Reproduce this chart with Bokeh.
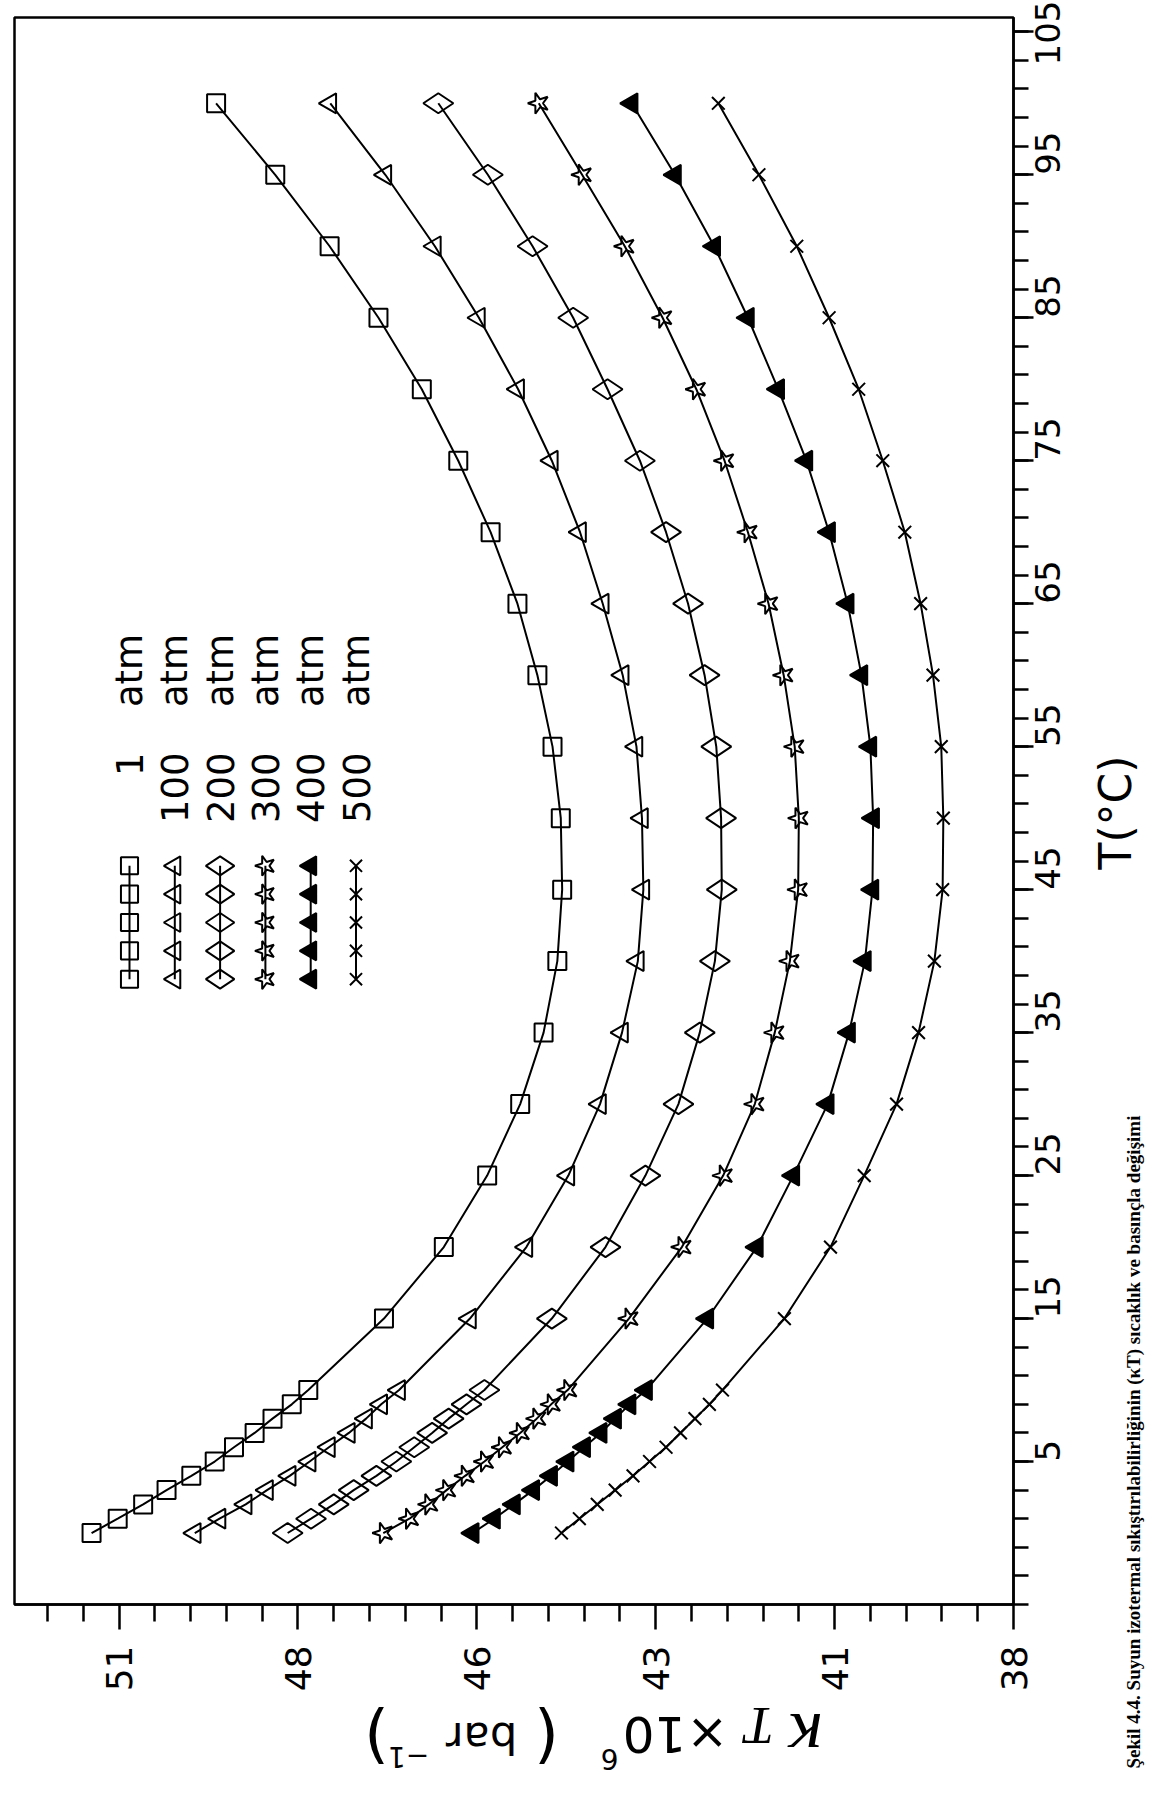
import math
from bokeh.plotting import figure
from bokeh.models import Range1d, FixedTicker, Label
from bokeh.layouts import row, column
from bokeh.embed import file_html
from bokeh.resources import INLINE

# ---------------- data ----------------
T_C = [0, 1, 2, 3, 4, 5, 6, 7, 8, 9, 10, 15, 20, 25, 30, 35, 40, 45, 50,
       55, 60, 65, 70, 75, 80, 85, 90, 95, 100]

KT_1 = [51.40, 51.02, 50.65, 50.31, 49.95, 49.61, 49.33, 49.03, 48.77, 48.49, 48.25,
        47.15, 46.28, 45.65, 45.17, 44.83, 44.63, 44.56, 44.58, 44.70, 44.92, 45.21,
        45.60, 46.07, 46.60, 47.23, 47.94, 48.73, 49.59]
KT_100 = [49.90, 49.54, 49.16, 48.85, 48.52, 48.23, 47.95, 47.66, 47.41, 47.19, 46.93,
          45.90, 45.08, 44.47, 44.01, 43.69, 43.46, 43.38, 43.40, 43.48, 43.68, 43.97,
          44.30, 44.71, 45.20, 45.77, 46.41, 47.13, 47.93]
KT_200 = [48.55, 48.21, 47.88, 47.59, 47.26, 46.97, 46.71, 46.45, 46.21, 45.95, 45.69,
          44.71, 43.93, 43.35, 42.87, 42.56, 42.34, 42.24, 42.25, 42.32, 42.49, 42.73,
          43.05, 43.43, 43.90, 44.40, 44.99, 45.64, 46.36]
KT_300 = [47.16, 46.78, 46.50, 46.24, 45.97, 45.69, 45.43, 45.17, 44.93, 44.72, 44.48,
          43.59, 42.82, 42.22, 41.76, 41.47, 41.25, 41.13, 41.12, 41.18, 41.34, 41.56,
          41.86, 42.20, 42.61, 43.10, 43.65, 44.27, 44.90]
KT_400 = [45.86, 45.55, 45.26, 44.98, 44.72, 44.48, 44.24, 44.00, 43.79, 43.58, 43.34,
          42.45, 41.73, 41.20, 40.70, 40.39, 40.16, 40.05, 40.04, 40.08, 40.21, 40.41,
          40.68, 41.01, 41.42, 41.86, 42.35, 42.92, 43.55]
KT_500 = [44.57, 44.31, 44.05, 43.79, 43.53, 43.29, 43.05, 42.84, 42.63, 42.42, 42.23,
          41.33, 40.66, 40.17, 39.70, 39.38, 39.15, 39.03, 39.02, 39.05, 39.17, 39.35,
          39.58, 39.90, 40.25, 40.68, 41.15, 41.70, 42.29]

SERIES = [KT_1, KT_100, KT_200, KT_300, KT_400, KT_500]
SERIES_LABELS = ["1", "100", "200", "300", "400", "500"]
UNIT_LABEL = "atm"

KAPPA_TICKS = [38.0, 40.6, 43.2, 45.8, 48.4, 51.0]
KAPPA_TICK_LABELS = ["38", "41", "43", "46", "48", "51"]
KAPPA_MINOR = [38.52, 39.04, 39.56, 40.08, 41.12, 41.64, 42.16, 42.68, 43.72, 44.24,
               44.76, 45.28, 46.32, 46.84, 47.36, 47.88, 48.92, 49.44, 49.96, 50.48,
               51.52, 52.04]
T_TICKS = [5, 15, 25, 35, 45, 55, 65, 75, 85, 95, 105]
T_MINOR = list(range(-5, 106, 2))

X_LABEL_PARTS = ["κ", "T", "×10", "6", "(", "bar", "−1", ")"]
Y_LABEL = "T(°C)"
CAPTION = "Şekil 4.4. Suyun izotermal sıkıştırılabilirliğinin (κT) sıcaklık ve basınçla değişimi"

# ---------------- styles / layout ----------------
MARKERS = ["square", "triangle", "diamond", "star", "triangle", "x"]
FILLS = [None, None, None, None, "black", None]
SIZES = [18, 20, 30, 22, 20, 18]
ANGLES = [0, math.pi / 2, math.pi / 2, math.pi / 2, math.pi / 2, 0]

# page pixels
FRAME_L, FRAME_R, FRAME_T, FRAME_B = 22, 1021, 25, 1612
X_START, X_END = 52.52, 38.0
Y_START, Y_END = -5.0, 106.0
MAIN_RIGHT, MAIN_BOTTOM = 76, 92
MAIN_W = (FRAME_L - 8) + (FRAME_R - FRAME_L) + MAIN_RIGHT
MAIN_H = (FRAME_T - 8) + (FRAME_B - FRAME_T) + MAIN_BOTTOM
TOTAL_W, TOTAL_H = 1146, 1778


def kx(px):
    return X_START + (px - FRAME_L) * (X_END - X_START) / (FRAME_R - FRAME_L)


def ty(py):
    return Y_END - (py - FRAME_T) * (Y_END - Y_START) / (FRAME_B - FRAME_T)


p = figure(frame_width=FRAME_R - FRAME_L, frame_height=FRAME_B - FRAME_T,
           min_border_left=FRAME_L - 8, min_border_top=FRAME_T - 8,
           min_border_right=MAIN_RIGHT, min_border_bottom=MAIN_BOTTOM,
           x_range=Range1d(X_START, X_END), y_range=Range1d(Y_START, Y_END),
           y_axis_location="right", output_backend="svg",
           toolbar_location=None, tools="")
p.xgrid.visible = False
p.ygrid.visible = False
p.background_fill_color = "white"
p.border_fill_color = "white"
p.outline_line_color = "black"
p.outline_line_width = 2.5

xa = p.xaxis[0]
xa.ticker = FixedTicker(ticks=KAPPA_TICKS, minor_ticks=KAPPA_MINOR)
xa.major_label_overrides = {t: s for t, s in zip(KAPPA_TICKS, KAPPA_TICK_LABELS)}
ya = p.yaxis[0]
ya.ticker = FixedTicker(ticks=T_TICKS, minor_ticks=T_MINOR)

for ax, tout, mout, stand, fs in ((xa, 25, 17, 16, "36px"), (ya, 20, 15, 14, "34px")):
    ax.axis_line_width = 2.5
    ax.axis_line_color = "black"
    ax.major_tick_line_width = 2.5
    ax.minor_tick_line_width = 2.5
    ax.major_tick_line_color = "black"
    ax.minor_tick_line_color = "black"
    ax.major_tick_out = tout
    ax.major_tick_in = 0
    ax.minor_tick_out = mout
    ax.minor_tick_in = 0
    ax.major_label_orientation = math.pi / 2
    ax.major_label_text_font = "DejaVu Sans"
    ax.major_label_text_font_size = fs
    ax.major_label_text_color = "black"
    ax.major_label_standoff = stand

# ---------------- curves ----------------
for ks, mk, fc, sz, an in zip(SERIES, MARKERS, FILLS, SIZES, ANGLES):
    p.line(ks, T_C, line_color="black", line_width=2)
    p.scatter(ks, T_C, marker=mk, size=sz, angle=an, line_color="black",
              line_width=2, fill_color=fc)

# ---------------- legend (columns) ----------------
LEG_X0, LEG_DX = 137, 45.3
LEG_Y0, LEG_DY, LEG_N = 873.3, 28.35, 5
for i, (lab, mk, fc, sz, an) in enumerate(zip(SERIES_LABELS, MARKERS, FILLS, SIZES, ANGLES)):
    cx = kx(LEG_X0 + LEG_DX * i)
    ys = [ty(LEG_Y0 + LEG_DY * j) for j in range(LEG_N)]
    p.line([cx] * LEG_N, ys, line_color="black", line_width=2)
    p.scatter([cx] * LEG_N, ys, marker=mk, size=sz * 0.95, angle=an,
              line_color="black", line_width=2, fill_color=fc)
    p.add_layout(Label(x=cx, y=ty(760), text=lab, angle=math.pi / 2,
                       text_align="right", text_baseline="middle",
                       text_font="DejaVu Sans", text_font_size="37px",
                       text_color="black"))
    p.add_layout(Label(x=cx, y=ty(678), text=UNIT_LABEL, angle=math.pi / 2,
                       text_align="center", text_baseline="middle",
                       text_font="DejaVu Sans", text_font_size="37px",
                       text_color="black"))


# ---------------- text panels (coordinates = page pixels) ----------------
def panel(x0, x1, y_top, y_bot):
    f = figure(frame_width=int(x1 - x0), frame_height=int(y_bot - y_top),
               x_range=Range1d(x0, x1), y_range=Range1d(y_bot, y_top),
               x_axis_location=None, y_axis_location=None,
               min_border=0, min_border_left=0, min_border_right=0,
               min_border_top=0, min_border_bottom=0,
               output_backend="svg", toolbar_location=None, tools="")
    f.outline_line_color = None
    f.background_fill_color = "white"
    f.border_fill_color = "white"
    f.xgrid.visible = False
    f.ygrid.visible = False
    return f


pb = panel(8, 8 + MAIN_W, 8 + MAIN_H, 8 + TOTAL_H)
pr = panel(8 + MAIN_W, 8 + TOTAL_W, 8, 8 + TOTAL_H)

# x-axis title (upside down, as in the scan); centres in page pixels
XL_POS = [(799, 1745), (753, 1733), (669, 1741), (603, 1767),
          (540, 1744), (475, 1745), (402, 1765), (370, 1744)]
XL_FONT = [("Liberation Serif", "italic", "72px"), ("Liberation Serif", "italic", "52px"),
           ("DejaVu Sans", "normal", "50px"), ("DejaVu Sans", "normal", "28px"),
           ("DejaVu Sans", "normal", "64px"), ("DejaVu Sans", "normal", "43px"),
           ("DejaVu Sans", "normal", "28px"), ("DejaVu Sans", "normal", "64px")]
for txt, (px, py), (fnt, sty, fsz) in zip(X_LABEL_PARTS, XL_POS, XL_FONT):
    pb.add_layout(Label(x=px, y=py, text=txt, angle=math.pi,
                        text_align="center", text_baseline="middle",
                        text_font=fnt, text_font_style=sty, text_font_size=fsz,
                        text_color="black"))

# y-axis title and caption
pr.add_layout(Label(x=1123, y=820, text=Y_LABEL, angle=math.pi / 2,
                    text_align="center", text_baseline="middle",
                    text_font="DejaVu Sans", text_font_size="44px", text_color="black"))
pr.add_layout(Label(x=1141, y=1776, text=CAPTION, angle=math.pi / 2,
                    text_align="left", text_baseline="middle",
                    text_font="Liberation Serif", text_font_style="bold",
                    text_font_size="19px", text_color="black"))

layout = row(column(p, pb), pr)
open("out.html", "w").write(file_html(layout, INLINE))
